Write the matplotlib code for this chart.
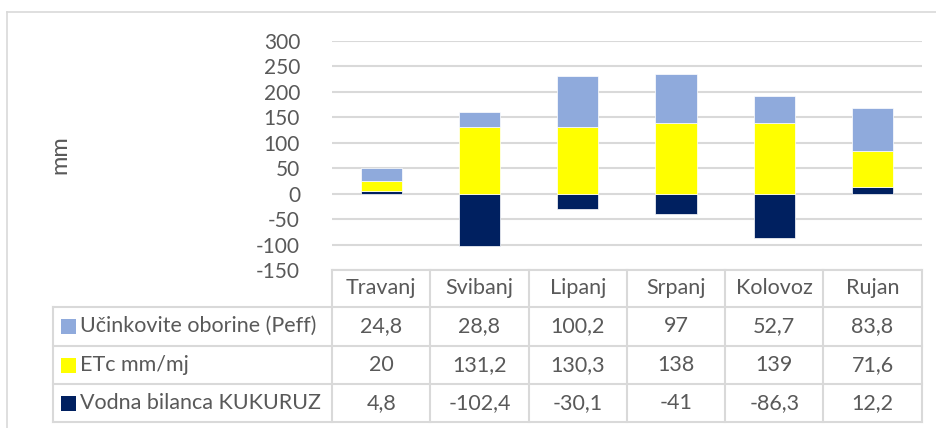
import matplotlib
matplotlib.use("Agg")
import matplotlib.pyplot as plt
import numpy as np
from matplotlib.lines import Line2D
from matplotlib.patches import Rectangle

# --- data ---
months = ["Travanj", "Svibanj", "Lipanj", "Srpanj", "Kolovoz", "Rujan"]
peff = [24.8, 28.8, 100.2, 97, 52.7, 83.8]
etc = [20, 131.2, 130.3, 138, 139, 71.6]
bilanca = [4.8, -102.4, -30.1, -41, -86.3, 12.2]
series_names = ["Učinkovite oborine (Peff)", "ETc mm/mj", "Vodna bilanca KUKURUZ"]
y_ticks = [-150, -100, -50, 0, 50, 100, 150, 200, 250, 300]

c_peff = "#8FAADC"
c_etc = "#FFFF00"
c_bil = "#002060"
grid_c = "#D9D9D9"
txt_c = "#595959"

plt.rcParams['font.family'] = ['Lato', 'DejaVu Sans']

W, H = 937, 428
fig = plt.figure(figsize=(W / 100, H / 100), dpi=100)

def fx(px):
    return px / W

def fy(py):
    return 1 - py / H

# plot area in pixel coords
x0, x1 = 332, 921.7
y_top, y_bot = 40.7, 270
ax = fig.add_axes([fx(x0), fy(y_bot), fx(x1) - fx(x0), fy(y_top) - fy(y_bot)])

x = np.arange(len(months))
bil = np.array(bilanca)
pos_base = np.where(bil > 0, bil, 0)
w = 0.42
ax.bar(x, bil, w, color=c_bil, edgecolor="white", linewidth=0.5, zorder=3)
ax.bar(x, etc, w, bottom=pos_base, color=c_etc, edgecolor="white", linewidth=0.5, zorder=3)
ax.bar(x, peff, w, bottom=pos_base + np.array(etc), color=c_peff, edgecolor="white", linewidth=0.5, zorder=3)

ax.set_xlim(-0.5, len(months) - 0.5)
ax.set_ylim(-150, 300)
ax.set_yticks(y_ticks)
ax.set_yticklabels([str(t) for t in y_ticks])
ax.tick_params(axis="y", length=0, pad=23, labelsize=15, labelcolor=txt_c)
ax.set_xticks([])
ax.yaxis.grid(True, color=grid_c, linewidth=1.5, zorder=0)
for s in ax.spines.values():
    s.set_visible(False)

fig.text(fx(60), fy(155), "mm", rotation=90, ha="center", va="center", fontsize=17, color=txt_c)

# chart border
fig.add_artist(Line2D([fx(7), 1], [fy(11.5), fy(11.5)], color=grid_c, linewidth=1.2))
fig.add_artist(Line2D([fx(7), fx(7)], [fy(11.5), 0], color=grid_c, linewidth=1.2))

# --- data table ---
col_w = (x1 - x0) / len(months)
col_edges = [x0 + i * col_w for i in range(len(months) + 1)]
row_edges = [270, 306.7, 346, 384.3, 422.3]
label_left = 53.3

def hline(py, xa, xb):
    fig.add_artist(Line2D([fx(xa), fx(xb)], [fy(py), fy(py)], color=grid_c, linewidth=1.5))

def vline(px, ya, yb):
    fig.add_artist(Line2D([fx(px), fx(px)], [fy(ya), fy(yb)], color=grid_c, linewidth=1.5))

hline(row_edges[0], x0, x1)
for r in row_edges[1:]:
    hline(r, label_left, x1)
for cx in col_edges:
    vline(cx, row_edges[0], row_edges[-1])
vline(label_left, row_edges[1], row_edges[-1])

fs = 15.5
for i, m in enumerate(months):
    cx = (col_edges[i] + col_edges[i + 1]) / 2
    fig.text(fx(cx), fy((row_edges[0] + row_edges[1]) / 2), m, ha="center", va="center",
             fontsize=fs, color=txt_c)

def fmt(v):
    return f"{v:g}".replace(".", ",")

table_rows = [peff, etc, bilanca]
colors = [c_peff, c_etc, c_bil]
for r, (name, vals, col) in enumerate(zip(series_names, table_rows, colors)):
    cy = (row_edges[r + 1] + row_edges[r + 2]) / 2
    fig.add_artist(Rectangle((fx(61), fy(cy + 7.5)), fx(15), fy(0) - fy(15),
                             facecolor=col, edgecolor="none"))
    fig.text(fx(80), fy(cy), name, ha="left", va="center", fontsize=fs, color=txt_c)
    for i, v in enumerate(vals):
        cx = (col_edges[i] + col_edges[i + 1]) / 2
        fig.text(fx(cx), fy(cy), fmt(v), ha="center", va="center", fontsize=fs, color=txt_c)

fig.savefig("out.png", dpi=100, facecolor="white")
